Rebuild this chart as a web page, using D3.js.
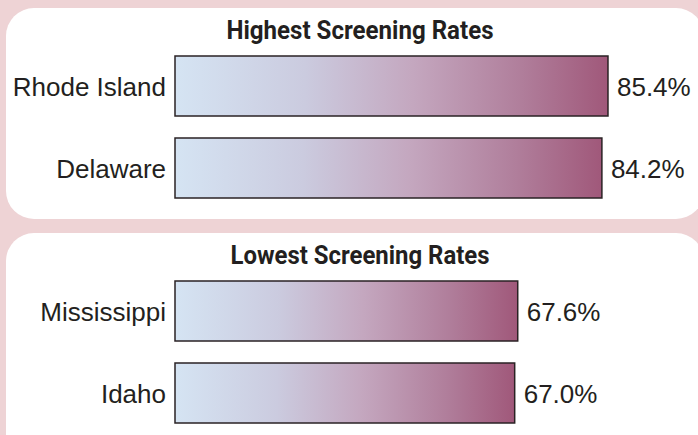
<!DOCTYPE html>
<html>
<head>
<meta charset="utf-8">
<script src="https://cdn.jsdelivr.net/npm/d3@7"></script>
<style>
  body { margin: 0; background: #eed3d5; }
  svg { display: block; }
</style>
</head>
<body>
<script>
var width = 698;
var height = 435;

// data
var panelTitles = ["Highest Screening Rates", "Lowest Screening Rates"];
var highStates = ["Rhode Island", "Delaware"];
var highRates = [85.4, 84.2];
var lowStates = ["Mississippi", "Idaho"];
var lowRates = [67.6, 67.0];

var panels = [
  { title: panelTitles[0], states: highStates, rates: highRates, titleW: 267 },
  { title: panelTitles[1], states: lowStates, rates: lowRates, titleW: 259 }
];

var svg = d3.select("body")
  .append("svg")
  .attr("width", width)
  .attr("height", height);

// bar gradient, light blue -> lavender -> mauve
var grad = svg.append("defs").append("linearGradient")
  .attr("id", "barGrad")
  .attr("x1", "0%").attr("x2", "100%")
  .attr("y1", "0%").attr("y2", "0%");
var stops = [
  [0, "#d5e4f3"], [0.3, "#cbcbdf"], [0.55, "#c4a7bf"],
  [0.8, "#b07e9b"], [1, "#a0587a"]
];
stops.forEach(function(s) {
  grad.append("stop").attr("offset", s[0]).attr("stop-color", s[1]);
});

var x = d3.scaleLinear().domain([0, 100]).range([175, 682]);

var panelOffset = 225;
var textColor = "#231f20";

panels.forEach(function(p, i) {
  var g = svg.append("g").attr("transform", "translate(0," + (i * panelOffset) + ")");

  // white rounded panel
  g.append("rect")
    .attr("x", 6).attr("y", 8)
    .attr("width", 698).attr("height", i == 0 ? 211 : 260)
    .attr("rx", 28).attr("ry", 28)
    .style("fill", "#ffffff");

  // condensed bold title (squeezed to the width in the original)
  g.append("text")
    .attr("x", 360).attr("y", 39)
    .attr("text-anchor", "middle")
    .attr("textLength", p.titleW)
    .attr("lengthAdjust", "spacingAndGlyphs")
    .style("font-family", "Roboto, 'Liberation Sans', sans-serif")
    .style("font-weight", "bold")
    .style("font-size", "25px")
    .style("fill", textColor)
    .text(p.title);

  var y = d3.scaleBand()
    .domain(p.states)
    .range([56, 198])
    .paddingInner(22 / 82);

  var rows = g.selectAll("g.row")
    .data(p.states.map(function(s, j) { return { state: s, rate: p.rates[j] }; }))
    .enter()
    .append("g")
    .attr("class", "row");

  rows.append("rect")
    .attr("x", x(0))
    .attr("y", function(d) { return y(d.state); })
    .attr("width", function(d) { return x(d.rate) - x(0); })
    .attr("height", y.bandwidth())
    .style("fill", "url(#barGrad)")
    .style("stroke", "#2a2224")
    .style("stroke-width", 1.5);

  rows.append("text")
    .attr("x", x(0) - 9)
    .attr("y", function(d) { return y(d.state) + y.bandwidth() / 2 + 9.5; })
    .attr("text-anchor", "end")
    .style("font-family", "'Liberation Sans', Arial, sans-serif")
    .style("font-size", "26px")
    .style("fill", textColor)
    .text(function(d) { return d.state; });

  rows.append("text")
    .attr("x", function(d) { return x(d.rate) + 9; })
    .attr("y", function(d) { return y(d.state) + y.bandwidth() / 2 + 9.5; })
    .style("font-family", "'Liberation Sans', Arial, sans-serif")
    .style("font-size", "26px")
    .style("fill", textColor)
    .text(function(d) { return d.rate.toFixed(1) + "%"; });
});
</script>
</body>
</html>
